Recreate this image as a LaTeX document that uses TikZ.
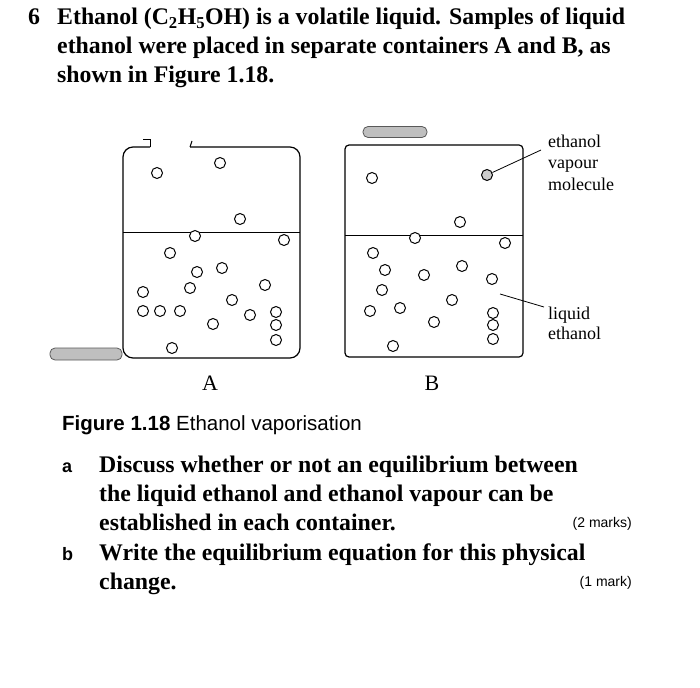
\documentclass[tikz,border=0pt]{standalone}
\usepackage{fontspec}
\setmainfont{Liberation Serif}
\setsansfont{Liberation Sans}
\begin{document}
\begin{tikzpicture}[x=1pt,y=-1pt,
  mol/.style={circle,draw,line width=1pt,inner sep=0pt,minimum size=11pt,fill=white},
  box/.style={draw,line width=1.2pt,rounded corners=4pt},
  lid/.style={draw=gray!70!black,fill=gray!50,rounded corners=5pt,line width=0.8pt},
  q/.style={font=\bfseries\fontsize{23.8}{24}\selectfont,anchor=base west,inner sep=0pt},
  lab/.style={font=\fontsize{18}{18}\selectfont,anchor=base west,inner sep=0pt,align=left}]
\useasboundingbox (0,0) rectangle (700,687);
\node[q] (n6) at (28,25) {6};
\node[q] (l1) at (57,25) {Ethanol (C\textsubscript{2}H\textsubscript{5}OH) is a volatile liquid. Samples of liquid};
\node[q] (l2) at (57,54) {ethanol were placed in separate containers A and B, as};
\node[q] (l3) at (57,83) {shown in Figure 1.18.};
% container A
\draw[line width=1.2pt,rounded corners=10pt] (150,147) -- (123,147) -- (123,358) -- (300,358) -- (300,147) -- (190,147);
\draw[line width=1pt] (143,140) -- (150,140) -- (150,147);
\draw[line width=1pt] (190,147) -- (192,141);
\draw[line width=0.8pt] (123,232) -- (300,232);
\node[lid,minimum width=72pt,minimum height=12pt] (lidA) at (86,354) {};
% container B
\node[box,minimum width=178pt,minimum height=212pt] (B) at (434,251) {};
\draw[line width=0.8pt] (345,235) -- (523,235);
\node[lid,minimum width=64pt,minimum height=11pt] (lidB) at (395,132) {};
\foreach \x/\y [count=\i] in {157/173,220/163,240/219,195/236,284/240,170/253,222/268,265/285,143/292,190/288,232/300,143/311,160/311,180/311,213/324,276/312,276/325,276/340,172/348,250/315,197/272}
  \node[mol] (a\i) at (\x,\y) {};
\foreach \x/\y [count=\i] in {372/178,460/222,415/238,505/243,373/253,424/275,462/266,492/279,382/290,400/308,370/311,452/300,434/322,493/313,493/325,493/339,393/346,385/270}
  \node[mol] (b\i) at (\x,\y) {};
\node[mol,fill=gray!40] (bv) at (487,175) {};
\coordinate (e1) at (541,150);
\coordinate (s2) at (500,294);
\coordinate (e2) at (544,307);
\draw[line width=0.8pt] (bv) -- (e1);
\draw[line width=0.8pt] (s2) -- (e2);
\node[lab] (t1) at (548,147) {ethanol};
\node[lab] (t2) at (548,168) {vapour};
\node[lab] (t3) at (548,190) {molecule};
\node[lab] (t4) at (548,319) {liquid};
\node[lab] (t5) at (548,339) {ethanol};
\node[font=\fontsize{22}{22}\selectfont] (A) at (210,383) {A};
\node[font=\fontsize{22}{22}\selectfont] (Bl) at (432,383) {B};
\node[font=\sffamily\fontsize{20.5}{20}\selectfont,anchor=base west,inner sep=0pt] (fig) at (62,430) {\textbf{Figure 1.18} Ethanol vaporisation};
\node[font=\sffamily\bfseries\fontsize{18}{18}\selectfont,anchor=base west,inner sep=0pt] (qa) at (62,472) {a};
\node[q] (a1) at (99,472) {Discuss whether or not an equilibrium between};
\node[q] (a2) at (99,501) {the liquid ethanol and ethanol vapour can be};
\node[q] (a3) at (99,530) {established in each container.};
\node[font=\sffamily\fontsize{14}{14}\selectfont,anchor=base east,inner sep=0pt] (m2) at (632,527) {(2 marks)};
\node[font=\sffamily\bfseries\fontsize{18}{18}\selectfont,anchor=base west,inner sep=0pt] (qb) at (62,560) {b};
\node[q] (b1t) at (99,560) {Write the equilibrium equation for this physical};
\node[q] (b2t) at (99,589) {change.};
\node[font=\sffamily\fontsize{14}{14}\selectfont,anchor=base east,inner sep=0pt] (m1) at (632,586) {(1 mark)};
\end{tikzpicture}
\end{document}
